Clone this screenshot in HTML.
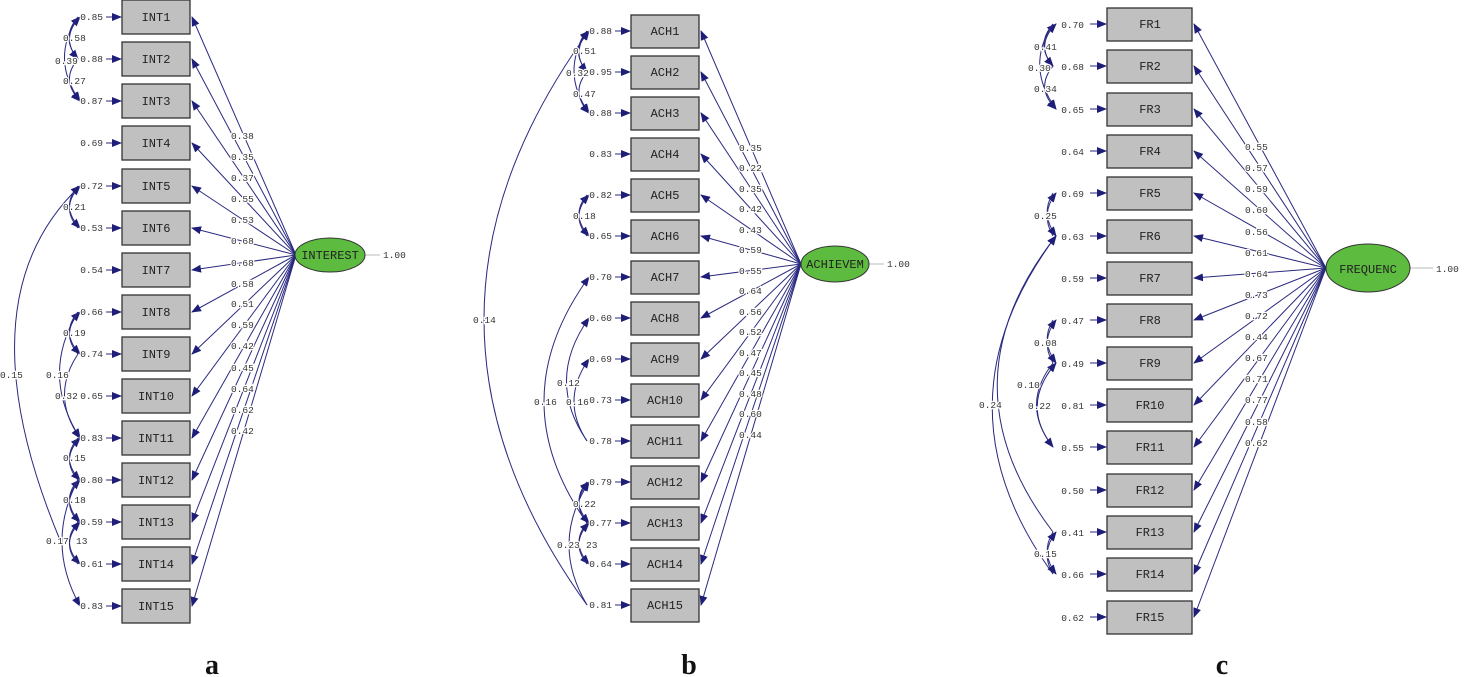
<!DOCTYPE html>
<html><head><meta charset="utf-8"><style>
body{margin:0;background:#fff}
svg{display:block}
.t{font-family:"Liberation Mono",monospace;font-size:9.5px;fill:#333;paint-order:stroke;stroke:#fff;stroke-width:2.5px}
.bx{font-family:"Liberation Mono",monospace;font-size:12px;fill:#222}
.l{stroke:#2a2a80;stroke-width:1;fill:none}
.r{fill:#c0c0c0;stroke:#333;stroke-width:1.3}
.e{fill:#5dbb3f;stroke:#333;stroke-width:1}
.big{font-family:"Liberation Serif",serif;font-size:28px;font-weight:bold;fill:#111}
</style></head><body>
<svg width="1466" height="677" viewBox="0 0 1466 677" xmlns="http://www.w3.org/2000/svg">
<defs><marker id="a" markerWidth="10" markerHeight="10" refX="9" refY="5" orient="auto" markerUnits="userSpaceOnUse"><path d="M0,1 L10,5 L0,9 Z" fill="#1e1e78"/></marker></defs>

<!-- PANEL A -->
<g>
<rect class="r" x="122" y="0" width="68" height="34"/><rect class="r" x="122" y="42" width="68" height="34"/><rect class="r" x="122" y="84" width="68" height="34"/><rect class="r" x="122" y="126" width="68" height="34"/><rect class="r" x="122" y="169" width="68" height="34"/><rect class="r" x="122" y="211" width="68" height="34"/><rect class="r" x="122" y="253" width="68" height="34"/><rect class="r" x="122" y="295" width="68" height="34"/><rect class="r" x="122" y="337" width="68" height="34"/><rect class="r" x="122" y="379" width="68" height="34"/><rect class="r" x="122" y="421" width="68" height="34"/><rect class="r" x="122" y="463" width="68" height="34"/><rect class="r" x="122" y="505" width="68" height="34"/><rect class="r" x="122" y="547" width="68" height="34"/><rect class="r" x="122" y="589" width="68" height="34"/>
<g class="bx" text-anchor="middle"><text x="156" y="21">INT1</text><text x="156" y="63">INT2</text><text x="156" y="105">INT3</text><text x="156" y="147">INT4</text><text x="156" y="190">INT5</text><text x="156" y="232">INT6</text><text x="156" y="274">INT7</text><text x="156" y="316">INT8</text><text x="156" y="358">INT9</text><text x="156" y="400">INT10</text><text x="156" y="442">INT11</text><text x="156" y="484">INT12</text><text x="156" y="526">INT13</text><text x="156" y="568">INT14</text><text x="156" y="610">INT15</text></g>
<g class="l" marker-end="url(#a)"><path d="M296,255L192,17"/><path d="M296,255L192,59"/><path d="M296,255L192,101"/><path d="M296,255L192,143"/><path d="M296,255L192,186"/><path d="M296,255L192,228"/><path d="M296,255L192,270"/><path d="M296,255L192,312"/><path d="M296,255L192,354"/><path d="M296,255L192,396"/><path d="M296,255L192,438"/><path d="M296,255L192,480"/><path d="M296,255L192,522"/><path d="M296,255L192,564"/><path d="M296,255L192,606"/>
<path d="M106,17H121"/><path d="M106,59H121"/><path d="M106,101H121"/><path d="M106,143H121"/><path d="M106,186H121"/><path d="M106,228H121"/><path d="M106,270H121"/><path d="M106,312H121"/><path d="M106,354H121"/><path d="M106,396H121"/><path d="M106,438H121"/><path d="M106,480H121"/><path d="M106,522H121"/><path d="M106,564H121"/><path d="M106,606H121"/>
<path d="M78,59Q60,38 80,17"/><path d="M78,17Q60,38 78,59"/><path d="M78,59Q60,80 80,101"/><path d="M78,17Q50,59 80,101"/><path d="M78,228Q60,207 80,186"/><path d="M78,186Q60,207 80,228"/>
<path d="M60,540Q-40,300 80,186"/>
<path d="M78,354Q60,333 80,312"/><path d="M78,312Q60,333 80,354"/><path d="M78,312Q40,375 80,438"/><path d="M78,354Q50,396 80,438"/><path d="M78,480Q60,459 80,438"/><path d="M78,438Q60,459 80,480"/><path d="M78,522Q60,501 80,480"/><path d="M78,480Q60,501 80,522"/><path d="M78,522Q60,543 80,564"/><path d="M78,564Q60,543 80,522"/><path d="M78,480Q45,543 80,606"/></g>
<g class="t" text-anchor="end"><text x="103" y="20">0.85</text><text x="103" y="62">0.88</text><text x="103" y="104">0.87</text><text x="103" y="146">0.69</text><text x="103" y="189">0.72</text><text x="103" y="231">0.53</text><text x="103" y="273">0.54</text><text x="103" y="315">0.66</text><text x="103" y="357">0.74</text><text x="103" y="399">0.65</text><text x="103" y="441">0.83</text><text x="103" y="483">0.80</text><text x="103" y="525">0.59</text><text x="103" y="567">0.61</text><text x="103" y="609">0.83</text></g>
<g class="t"><text x="63" y="41">0.58</text><text x="55" y="64">0.39</text><text x="63" y="84">0.27</text><text x="63" y="210">0.21</text><text x="0" y="378">0.15</text><text x="63" y="336">0.19</text><text x="46" y="378">0.16</text><text x="55" y="399">0.32</text><text x="63" y="461">0.15</text><text x="63" y="503">0.18</text><text x="46" y="544">0.17</text><text x="76" y="544">13</text>
<text x="231" y="139">0.38</text><text x="231" y="160">0.35</text><text x="231" y="181">0.37</text><text x="231" y="202">0.55</text><text x="231" y="223">0.53</text><text x="231" y="244">0.68</text><text x="231" y="266">0.68</text><text x="231" y="287">0.58</text><text x="231" y="307">0.51</text><text x="231" y="328">0.59</text><text x="231" y="349">0.42</text><text x="231" y="371">0.45</text><text x="231" y="392">0.64</text><text x="231" y="413">0.62</text><text x="231" y="434">0.42</text><text x="383" y="258">1.00</text></g>
<line x1="365" y1="255" x2="380" y2="255" stroke="#bbb"/>
<ellipse class="e" cx="330" cy="255" rx="35" ry="17"/><text class="bx" x="330" y="259" text-anchor="middle" font-size="11">INTEREST</text>
<text class="big" x="212" y="674" text-anchor="middle">a</text>
</g>

<!-- PANEL B -->
<g>
<rect class="r" x="631" y="15" width="68" height="33"/><rect class="r" x="631" y="56" width="68" height="33"/><rect class="r" x="631" y="97" width="68" height="33"/><rect class="r" x="631" y="138" width="68" height="33"/><rect class="r" x="631" y="179" width="68" height="33"/><rect class="r" x="631" y="220" width="68" height="33"/><rect class="r" x="631" y="261" width="68" height="33"/><rect class="r" x="631" y="302" width="68" height="33"/><rect class="r" x="631" y="343" width="68" height="33"/><rect class="r" x="631" y="384" width="68" height="33"/><rect class="r" x="631" y="425" width="68" height="33"/><rect class="r" x="631" y="466" width="68" height="33"/><rect class="r" x="631" y="507" width="68" height="33"/><rect class="r" x="631" y="548" width="68" height="33"/><rect class="r" x="631" y="589" width="68" height="33"/>
<g class="bx" text-anchor="middle"><text x="665" y="35">ACH1</text><text x="665" y="76">ACH2</text><text x="665" y="117">ACH3</text><text x="665" y="158">ACH4</text><text x="665" y="199">ACH5</text><text x="665" y="240">ACH6</text><text x="665" y="281">ACH7</text><text x="665" y="322">ACH8</text><text x="665" y="363">ACH9</text><text x="665" y="404">ACH10</text><text x="665" y="445">ACH11</text><text x="665" y="486">ACH12</text><text x="665" y="527">ACH13</text><text x="665" y="568">ACH14</text><text x="665" y="609">ACH15</text></g>
<g class="l" marker-end="url(#a)"><path d="M801,264L701,31"/><path d="M801,264L701,72"/><path d="M801,264L701,113"/><path d="M801,264L701,154"/><path d="M801,264L701,195"/><path d="M801,264L701,236"/><path d="M801,264L701,277"/><path d="M801,264L701,318"/><path d="M801,264L701,359"/><path d="M801,264L701,400"/><path d="M801,264L701,441"/><path d="M801,264L701,482"/><path d="M801,264L701,523"/><path d="M801,264L701,564"/><path d="M801,264L701,605"/>
<path d="M615,31H630"/><path d="M615,72H630"/><path d="M615,113H630"/><path d="M615,154H630"/><path d="M615,195H630"/><path d="M615,236H630"/><path d="M615,277H630"/><path d="M615,318H630"/><path d="M615,359H630"/><path d="M615,400H630"/><path d="M615,441H630"/><path d="M615,482H630"/><path d="M615,523H630"/><path d="M615,564H630"/><path d="M615,605H630"/>
<path d="M587,72Q570,51 589,31"/><path d="M587,31Q570,51 587,72"/><path d="M587,72Q570,92 589,113"/><path d="M587,31Q560,72 589,113"/><path d="M587,236Q570,215 589,195"/><path d="M587,195Q570,215 589,236"/>
<path d="M587,605Q380,318 589,31"/>
<path d="M587,523Q500,400 589,277"/><path d="M587,441Q545,380 589,318"/><path d="M587,441Q560,400 589,359"/>
<path d="M587,523Q570,502 589,482"/><path d="M587,482Q570,502 589,523"/><path d="M587,523Q570,543 589,564"/><path d="M587,564Q570,543 589,523"/><path d="M587,605Q550,543 589,482"/></g>
<g class="t" text-anchor="end"><text x="612" y="34">0.88</text><text x="612" y="75">0.95</text><text x="612" y="116">0.88</text><text x="612" y="157">0.83</text><text x="612" y="198">0.82</text><text x="612" y="239">0.65</text><text x="612" y="280">0.70</text><text x="612" y="321">0.60</text><text x="612" y="362">0.69</text><text x="612" y="403">0.73</text><text x="612" y="444">0.78</text><text x="612" y="485">0.79</text><text x="612" y="526">0.77</text><text x="612" y="567">0.64</text><text x="612" y="608">0.81</text></g>
<g class="t"><text x="573" y="54">0.51</text><text x="566" y="76">0.32</text><text x="573" y="97">0.47</text><text x="573" y="219">0.18</text><text x="473" y="323">0.14</text><text x="557" y="386">0.12</text><text x="534" y="405">0.16</text><text x="566" y="405">0.16</text><text x="573" y="507">0.22</text><text x="557" y="548">0.23</text><text x="586" y="548">23</text>
<text x="739" y="151">0.35</text><text x="739" y="171">0.22</text><text x="739" y="192">0.35</text><text x="739" y="212">0.42</text><text x="739" y="233">0.43</text><text x="739" y="253">0.59</text><text x="739" y="274">0.55</text><text x="739" y="294">0.64</text><text x="739" y="315">0.56</text><text x="739" y="335">0.52</text><text x="739" y="356">0.47</text><text x="739" y="376">0.45</text><text x="739" y="397">0.48</text><text x="739" y="417">0.60</text><text x="739" y="438">0.44</text><text x="887" y="267">1.00</text></g>
<line x1="869" y1="264" x2="884" y2="264" stroke="#bbb"/>
<ellipse class="e" cx="835" cy="264" rx="34" ry="18"/><text class="bx" x="835" y="268" text-anchor="middle" font-size="11">ACHIEVEM</text>
<text class="big" x="689" y="674" text-anchor="middle">b</text>
</g>

<!-- PANEL C -->
<g>
<rect class="r" x="1107" y="8" width="85" height="33"/><rect class="r" x="1107" y="50" width="85" height="33"/><rect class="r" x="1107" y="93" width="85" height="33"/><rect class="r" x="1107" y="135" width="85" height="33"/><rect class="r" x="1107" y="177" width="85" height="33"/><rect class="r" x="1107" y="220" width="85" height="33"/><rect class="r" x="1107" y="262" width="85" height="33"/><rect class="r" x="1107" y="304" width="85" height="33"/><rect class="r" x="1107" y="347" width="85" height="33"/><rect class="r" x="1107" y="389" width="85" height="33"/><rect class="r" x="1107" y="431" width="85" height="33"/><rect class="r" x="1107" y="474" width="85" height="33"/><rect class="r" x="1107" y="516" width="85" height="33"/><rect class="r" x="1107" y="558" width="85" height="33"/><rect class="r" x="1107" y="601" width="85" height="33"/>
<g class="bx" text-anchor="middle" font-size="10"><text x="1150" y="28">FR1</text><text x="1150" y="70">FR2</text><text x="1150" y="113">FR3</text><text x="1150" y="155">FR4</text><text x="1150" y="197">FR5</text><text x="1150" y="240">FR6</text><text x="1150" y="282">FR7</text><text x="1150" y="324">FR8</text><text x="1150" y="367">FR9</text><text x="1150" y="409">FR10</text><text x="1150" y="451">FR11</text><text x="1150" y="494">FR12</text><text x="1150" y="536">FR13</text><text x="1150" y="578">FR14</text><text x="1150" y="621">FR15</text></g>
<g class="l" marker-end="url(#a)"><path d="M1326,268L1194,24"/><path d="M1326,268L1194,66"/><path d="M1326,268L1194,109"/><path d="M1326,268L1194,151"/><path d="M1326,268L1194,193"/><path d="M1326,268L1194,236"/><path d="M1326,268L1194,278"/><path d="M1326,268L1194,320"/><path d="M1326,268L1194,363"/><path d="M1326,268L1194,405"/><path d="M1326,268L1194,447"/><path d="M1326,268L1194,490"/><path d="M1326,268L1194,532"/><path d="M1326,268L1194,574"/><path d="M1326,268L1194,617"/>
<path d="M1090,24H1106"/><path d="M1090,66H1106"/><path d="M1090,109H1106"/><path d="M1090,151H1106"/><path d="M1090,193H1106"/><path d="M1090,236H1106"/><path d="M1090,278H1106"/><path d="M1090,320H1106"/><path d="M1090,363H1106"/><path d="M1090,405H1106"/><path d="M1090,447H1106"/><path d="M1090,490H1106"/><path d="M1090,532H1106"/><path d="M1090,574H1106"/><path d="M1090,617H1106"/>
<path d="M1053,66Q1035,45 1056,24"/><path d="M1053,24Q1035,45 1053,66"/><path d="M1053,66Q1035,88 1056,109"/><path d="M1053,24Q1025,66 1056,109"/><path d="M1053,236Q1040,214 1056,193"/><path d="M1053,193Q1040,214 1056,236"/>
<path d="M1053,532Q940,384 1056,236"/><path d="M1053,574Q930,405 1056,236"/>
<path d="M1053,363Q1040,341 1056,320"/><path d="M1053,320Q1040,341 1056,363"/><path d="M1053,447Q1020,405 1056,363"/><path d="M1053,363Q1020,405 1053,447"/><path d="M1053,574Q1040,553 1056,532"/><path d="M1053,532Q1040,553 1056,574"/></g>
<g class="t" text-anchor="end" font-size="10.5"><text x="1084" y="28">0.70</text><text x="1084" y="70">0.68</text><text x="1084" y="113">0.65</text><text x="1084" y="155">0.64</text><text x="1084" y="197">0.69</text><text x="1084" y="240">0.63</text><text x="1084" y="282">0.59</text><text x="1084" y="324">0.47</text><text x="1084" y="367">0.49</text><text x="1084" y="409">0.81</text><text x="1084" y="451">0.55</text><text x="1084" y="494">0.50</text><text x="1084" y="536">0.41</text><text x="1084" y="578">0.66</text><text x="1084" y="621">0.62</text></g>
<g class="t" font-size="10.5"><text x="1034" y="50">0.41</text><text x="1028" y="71">0.30</text><text x="1034" y="92">0.34</text><text x="1034" y="219">0.25</text><text x="1017" y="388">0.10</text><text x="979" y="408">0.24</text><text x="1034" y="346">0.08</text><text x="1028" y="409">0.22</text><text x="1034" y="557">0.15</text>
<text x="1245" y="150">0.55</text><text x="1245" y="171">0.57</text><text x="1245" y="192">0.59</text><text x="1245" y="213">0.60</text><text x="1245" y="235">0.56</text><text x="1245" y="256">0.61</text><text x="1245" y="277">0.64</text><text x="1245" y="298">0.73</text><text x="1245" y="319">0.72</text><text x="1245" y="340">0.44</text><text x="1245" y="361">0.67</text><text x="1245" y="382">0.71</text><text x="1245" y="403">0.77</text><text x="1245" y="425">0.58</text><text x="1245" y="446">0.62</text><text x="1436" y="272">1.00</text></g>
<line x1="1410" y1="268" x2="1433" y2="268" stroke="#bbb"/>
<ellipse class="e" cx="1368" cy="268" rx="42" ry="24"/><text class="bx" x="1368" y="273" text-anchor="middle" font-size="12">FREQUENC</text>
<text class="big" x="1222" y="674" text-anchor="middle">c</text>
</g>
</svg>
</body></html>
